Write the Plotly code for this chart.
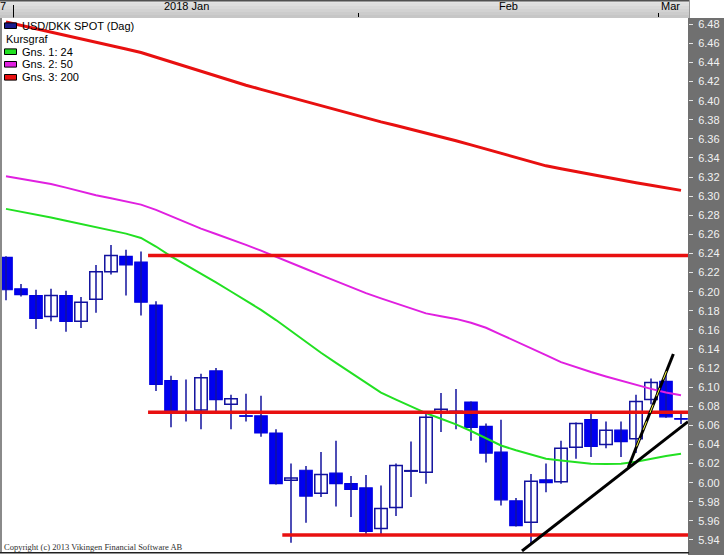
import plotly.graph_objects as go

# ---------------- data ----------------
dates = ["2017-12-29",
         "2018-01-01", "2018-01-02", "2018-01-03", "2018-01-04", "2018-01-05",
         "2018-01-08", "2018-01-09", "2018-01-10", "2018-01-11", "2018-01-12",
         "2018-01-15", "2018-01-16", "2018-01-17", "2018-01-18", "2018-01-19",
         "2018-01-22", "2018-01-23", "2018-01-24", "2018-01-25", "2018-01-26",
         "2018-01-29", "2018-01-30", "2018-01-31",
         "2018-02-01", "2018-02-02", "2018-02-05", "2018-02-06", "2018-02-07",
         "2018-02-08", "2018-02-09", "2018-02-12", "2018-02-13", "2018-02-14",
         "2018-02-15", "2018-02-16", "2018-02-19", "2018-02-20", "2018-02-21",
         "2018-02-22", "2018-02-23", "2018-02-26", "2018-02-27", "2018-02-28",
         "2018-03-01", "2018-03-02"]

open_ = [6.236, 6.203, 6.196, 6.174, 6.196, 6.169, 6.192, 6.221, 6.237, 6.231,
         6.186, 6.107, 6.0745, 6.076, 6.117, 6.082, 6.070, 6.070, 6.052, 6.0025,
         6.013, 5.989, 6.010, 5.999, 5.9945, 5.952, 5.974, 6.012, 6.011, 6.0735,
         6.075, 6.0845, 6.059, 6.032, 5.981, 5.9585, 6.003, 6.001, 6.037, 6.066,
         6.040, 6.055, 6.046, 6.087, 6.106, 6.067]
high = [6.237, 6.208, 6.202, 6.203, 6.201, 6.1945, 6.228, 6.249, 6.244, 6.242,
        6.190, 6.112, 6.108, 6.114, 6.120, 6.092, 6.093, 6.091, 6.056, 6.020,
        6.0175, 6.032, 6.044, 6.007, 6.008, 5.997, 6.020, 6.043, 6.0745, 6.094,
        6.098, 6.085, 6.062, 6.066, 5.984, 6.009, 6.020, 6.044, 6.063, 6.073,
        6.064, 6.064, 6.092, 6.109, 6.116, 6.072]
low = [6.191, 6.195, 6.161, 6.169, 6.158, 6.162, 6.178, 6.218, 6.196, 6.175,
       6.096, 6.058, 6.064, 6.056, 6.072, 6.056, 6.064, 6.048, 5.998, 5.937,
       5.958, 5.985, 5.975, 5.964, 5.945, 5.946, 5.965, 5.985, 5.999, 6.053,
       6.056, 6.044, 6.021, 5.976, 5.954, 5.936, 5.990, 5.999, 6.025, 6.027,
       6.036, 6.027, 6.031, 6.082, 6.068, 6.0615]
close = [6.202, 6.197, 6.172, 6.196, 6.169, 6.189, 6.221, 6.238, 6.228, 6.189,
         6.103, 6.074, 6.0735, 6.110, 6.087, 6.088, 6.0695, 6.052, 5.999, 6.005,
         5.986, 6.0085, 5.999, 5.993, 5.949, 5.973, 6.018, 6.0125, 6.0685, 6.077,
         6.073, 6.058, 6.031, 5.982, 5.955, 6.0015, 6.000, 6.036, 6.062, 6.038,
         6.055, 6.043, 6.085, 6.105, 6.069, 6.0665]

ma24 = [6.2867, 6.2838, 6.2807, 6.2777, 6.2742, 6.2708, 6.2673, 6.2641, 6.2608, 6.2563,
        6.2473, 6.2370, 6.2281, 6.2191, 6.2097, 6.2002, 6.1906, 6.1810, 6.1703, 6.1587,
        6.1472, 6.1360, 6.1255, 6.1152, 6.1047, 6.0943, 6.0869, 6.0797, 6.0728, 6.0669,
        6.0610, 6.0541, 6.0465, 6.0389, 6.0339, 6.0291, 6.0250, 6.0232, 6.0216, 6.0198,
        6.0196, 6.0199, 6.0218, 6.0249, 6.0279, 6.0302]
ma50 = [6.3210, 6.3183, 6.3156, 6.3128, 6.3090, 6.3047, 6.3010, 6.2979, 6.2947, 6.2912,
        6.2857, 6.2791, 6.2725, 6.2660, 6.2604, 6.2549, 6.2490, 6.2430, 6.2368, 6.2302,
        6.2237, 6.2173, 6.2110, 6.2046, 6.1985, 6.1930, 6.1875, 6.1820, 6.1773, 6.1743,
        6.1715, 6.1675, 6.1622, 6.1551, 6.1481, 6.1408, 6.1335, 6.1262, 6.1209, 6.1159,
        6.1112, 6.1066, 6.1022, 6.0982, 6.0945, 6.0916]
ma200 = [6.4824, 6.4789, 6.4755, 6.4720, 6.4686, 6.4651, 6.4617, 6.4582, 6.4541, 6.4504,
         6.4455, 6.4405, 6.4356, 6.4306, 6.4255, 6.4205, 6.4162, 6.4119, 6.4076, 6.4033,
         6.3989, 6.3946, 6.3902, 6.3859, 6.3816, 6.3778, 6.3740, 6.3702, 6.3662, 6.3622,
         6.3581, 6.3537, 6.3492, 6.3448, 6.3405, 6.3361, 6.3318, 6.3287, 6.3256, 6.3225,
         6.3198, 6.3167, 6.3140, 6.3114, 6.3087, 6.3061]

# horizontal support / resistance lines: level and first candle position
hline_levels = [6.238, 6.0737, 5.9452]
hline_starts = [9.47, 9.47, 18.42]

# trend lines: (x0, y0, x1, y1) in candle-index / price units
trend_lines = [(34.4, 5.9285, 45.47, 6.0639),
               (41.49, 6.0161, 44.49, 6.1348)]
trend_dash = (42.04, 6.0379, 44.05, 6.1174)

y_ticks = [5.94, 5.96, 5.98, 6.00, 6.02, 6.04, 6.06, 6.08, 6.10, 6.12, 6.14,
           6.16, 6.18, 6.20, 6.22, 6.24, 6.26, 6.28, 6.30, 6.32, 6.34, 6.36,
           6.38, 6.40, 6.42, 6.44, 6.46, 6.48]
y_tick_text = ["%.2f" % v for v in y_ticks]

legend_items = ["USD/DKK SPOT (Dag)", "Kursgraf", "Gns. 1: 24", "Gns. 2: 50", "Gns. 3: 200"]
legend_colors = ["#1c1c8c", None, "#22e022", "#e020e0", "#e81010"]
copyright_text = "Copyright (c) 2013 Vikingen Financial Software AB"
prev_label_tail = "7"   # visible tail of the cut-off previous-period label

# ---------------- layout helpers ----------------
W, H = 724, 555
ML, MR, MT, MB = 2, 36, 18, 3
PW, PH = W - ML - MR, H - MT - MB
X_RANGE = [-0.2667, 45.467]
Y_RANGE = [5.9274, 6.4866]


def pxx(px):
    return (px - ML) / PW


def pxy(py):
    return (H - MB - py) / PH


FONT = "Liberation Sans, Arial, sans-serif"
idx = list(range(len(dates)))

fig = go.Figure()

# wicks
wx, wy = [], []
for i in idx:
    wx += [i, i, None]
    wy += [low[i], high[i], None]
fig.add_trace(go.Scatter(x=wx, y=wy, mode="lines",
                         line=dict(color="#12129e", width=1.5), hoverinfo="skip"))

# bodies
MINH = 0.0006
up_x, up_b, up_h, dn_x, dn_b, dn_h = [], [], [], [], [], []
for i in idx:
    if close[i] >= open_[i]:
        up_x.append(i); up_b.append(open_[i]); up_h.append(max(close[i] - open_[i], MINH))
    else:
        dn_x.append(i); dn_b.append(close[i]); dn_h.append(max(open_[i] - close[i], MINH))
fig.add_trace(go.Bar(x=up_x, y=up_h, base=up_b, width=0.83,
                     marker=dict(color="white", line=dict(color="#12129e", width=1.5))))
fig.add_trace(go.Bar(x=dn_x, y=dn_h, base=dn_b, width=0.83,
                     marker=dict(color="#0000f0", line=dict(color="#0000e0", width=1.2))))

# moving averages
fig.add_trace(go.Scatter(x=idx, y=ma24, mode="lines", line=dict(color="#22e022", width=2)))
fig.add_trace(go.Scatter(x=idx, y=ma50, mode="lines", line=dict(color="#e020e0", width=2)))
fig.add_trace(go.Scatter(x=idx, y=ma200, mode="lines", line=dict(color="#e81010", width=3)))

# horizontal lines
for lvl, st in zip(hline_levels, hline_starts):
    fig.add_trace(go.Scatter(x=[st, X_RANGE[1]], y=[lvl, lvl], mode="lines",
                             line=dict(color="#e81010", width=3.5)))

# trend lines
for x0, y0, x1, y1 in trend_lines:
    fig.add_trace(go.Scatter(x=[x0, x1], y=[y0, y1], mode="lines",
                             line=dict(color="black", width=3)))
fig.add_trace(go.Scatter(x=[trend_dash[0], trend_dash[2]], y=[trend_dash[1], trend_dash[3]],
                         mode="lines", line=dict(color="#ffff40", width=1, dash="dash")))

shapes = []
# right axis panel
shapes.append(dict(type="rect", xref="paper", yref="paper", x0=pxx(688), x1=pxx(W + 2),
                   y0=pxy(H + 2), y1=pxy(MT), fillcolor="#707070", line=dict(width=0), layer="below"))
# top bar with gradient bands
band_cols = ["#e4e4e4", "#dedede", "#d8d8d8", "#d2d2d2", "#cccccc", "#c6c6c6"]
for k, c in enumerate(band_cols):
    shapes.append(dict(type="rect", xref="paper", yref="paper", x0=pxx(0), x1=pxx(690),
                       y0=pxy(3 * (k + 1)), y1=pxy(3 * k), fillcolor=c, line=dict(width=0), layer="below"))
shapes.append(dict(type="line", xref="paper", yref="paper", x0=pxx(0), x1=pxx(690),
                   y0=pxy(0.8), y1=pxy(0.8), line=dict(color="#505050", width=1.6)))
shapes.append(dict(type="line", xref="paper", yref="paper", x0=pxx(689.5), x1=pxx(689.5),
                   y0=pxy(18), y1=pxy(0), line=dict(color="#9a9a9a", width=1)))
# year-boundary tick (first month change in the dates list)
month_starts = [i for i in idx[1:] if dates[i][:7] != dates[i - 1][:7]]
shapes.append(dict(type="line", xref="x", yref="paper", x0=month_starts[0] - 0.5, x1=month_starts[0] - 0.5,
                   y0=pxy(17.5), y1=pxy(5), line=dict(color="black", width=1)))
# left border and bottom border
shapes.append(dict(type="line", xref="paper", yref="paper", x0=pxx(1), x1=pxx(1),
                   y0=pxy(553), y1=pxy(18), line=dict(color="#8a8a8a", width=2)))
shapes.append(dict(type="line", xref="paper", yref="paper", x0=pxx(0), x1=pxx(689),
                   y0=pxy(552.8), y1=pxy(552.8), line=dict(color="#202020", width=1.6)))

annotations = []
# month labels
month_names = {"01": "Jan", "02": "Feb", "03": "Mar", "12": "Dec"}
bounds = [-0.5] + [m - 0.5 for m in month_starts] + [len(dates) - 0.5]
annotations.append(dict(x=pxx(-1), y=pxy(6.5), xref="paper", yref="paper", text=prev_label_tail,
                        showarrow=False, xanchor="left", yanchor="middle", borderpad=0,
                        font=dict(family=FONT, size=11, color="black")))
for k, ms in enumerate(month_starts):
    name = month_names[dates[ms][5:7]]
    if dates[ms][5:7] == "01":
        name = dates[ms][:4] + " " + name
    last = k == len(month_starts) - 1
    xpos = bounds[k + 1] if last else (bounds[k + 1] + bounds[k + 2]) / 2
    annotations.append(dict(x=xpos, y=pxy(6.5), xref="x", yref="paper", text=name,
                            showarrow=False, xanchor="left" if last else "center", yanchor="middle",
                            font=dict(family=FONT, size=11, color="black")))

# legend
leg_y = [25.7, 39.3, 51.7, 64.3, 77.3]
for name, col, ly in zip(legend_items, legend_colors, leg_y):
    if col is not None:
        shapes.append(dict(type="rect", xref="paper", yref="paper", x0=pxx(4.5), x1=pxx(16.5),
                           y0=pxy(ly + 2.8), y1=pxy(ly - 2.8), fillcolor=col,
                           line=dict(color="black", width=1)))
        tx = 20
    else:
        tx = 4
    annotations.append(dict(x=pxx(tx), y=pxy(ly), xref="paper", yref="paper", text=name,
                            showarrow=False, xanchor="left", yanchor="middle",
                            font=dict(family=FONT, size=11, color="black")))

annotations.append(dict(x=pxx(2), y=pxy(546.5), xref="paper", yref="paper", text=copyright_text,
                        showarrow=False, xanchor="left", yanchor="middle",
                        font=dict(family="Liberation Serif, Times New Roman, serif", size=8.5, color="#303030")))

fig.update_layout(
    width=W, height=H,
    margin=dict(l=ML, r=MR, t=MT, b=MB, pad=0),
    paper_bgcolor="white", plot_bgcolor="white",
    showlegend=False, hovermode=False, barmode="overlay",
    shapes=shapes, annotations=annotations,
    xaxis=dict(range=X_RANGE, side="top", showgrid=False, zeroline=False, showline=False,
               tickmode="array", tickvals=[m - 0.5 for m in month_starts[1:]],
               ticks="outside", ticklen=4, tickcolor="black", tickwidth=1, showticklabels=False,
               fixedrange=True),
    yaxis=dict(range=Y_RANGE, side="right", showgrid=False, zeroline=False, showline=False,
               tickmode="array", tickvals=y_ticks, ticktext=y_tick_text,
               ticks="outside", ticklen=4, tickcolor="#e6e6e6", tickwidth=1,
               ticklabelstandoff=3,
               tickfont=dict(family=FONT, size=11, color="#f2f2f2"), fixedrange=True),
)

fig.write_html("out.html", config={"displayModeBar": False},
               post_script="document.body.style.margin='0';document.body.style.overflow='hidden';")
